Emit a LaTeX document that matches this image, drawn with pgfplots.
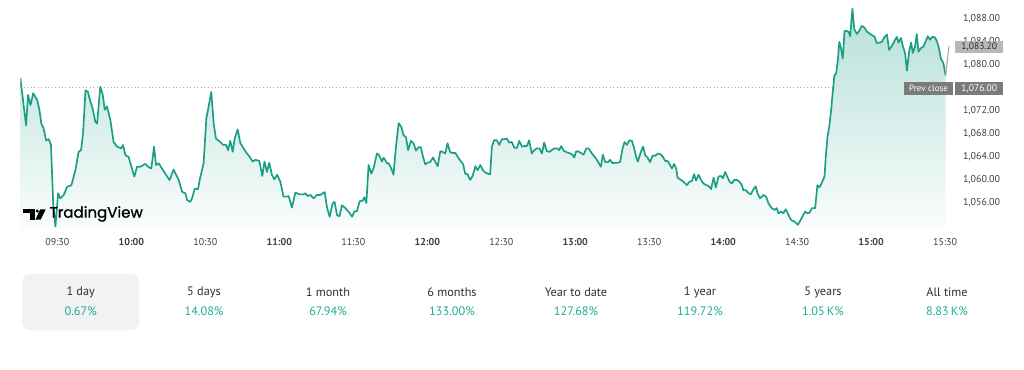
\documentclass[border=0pt]{standalone}
\usepackage{pgfplots}
\pgfplotsset{compat=1.18}
\usepackage{pgfplotstable}
\usepackage{fontspec}
\setmainfont{PT Sans}
\newfontfamily\logofont{Poppins}[FakeBold=1.2]
\definecolor{tvline}{HTML}{1A9E85}
\definecolor{tvpct}{HTML}{22AB94}
\definecolor{tvtext}{HTML}{2A2E39}
\definecolor{tvtick}{HTML}{3A3E49}
\definecolor{pcbox}{HTML}{7B7B7B}
\definecolor{lastbox}{HTML}{B8B8B8}
\definecolor{tabbg}{HTML}{F2F2F2}

\pgfplotstableread{
m v
15.0 1077.6
17.3 1069.4
18.1 1074.7
19.1 1072.9
20.2 1075.0
21.8 1073.8
22.7 1072.1
23.5 1069.7
24.4 1068.9
25.4 1066.8
26.5 1067.0
27.4 1066.0
28.3 1055.8
29.2 1051.8
30.3 1057.6
31.2 1056.7
32.6 1057.3
33.9 1058.7
35.7 1059.0
37.3 1061.6
38.6 1064.8
39.6 1065.1
40.4 1068.0
41.4 1075.5
42.4 1075.2
43.4 1073.5
44.3 1072.3
45.4 1070.0
46.1 1069.7
47.4 1076.1
48.4 1074.7
49.2 1072.1
50.1 1072.7
51.5 1070.3
52.8 1066.5
54.2 1065.7
55.9 1065.4
56.6 1066.0
57.6 1064.2
58.9 1063.9
60.0 1062.2
61.2 1060.5
62.3 1062.2
63.6 1062.2
65.7 1062.7
66.8 1062.2
68.1 1061.9
69.2 1065.7
70.0 1062.5
71.1 1062.8
72.4 1061.9
74.5 1060.5
75.5 1059.9
77.1 1061.7
79.2 1059.9
80.6 1057.8
81.9 1057.6
82.6 1056.4
83.9 1056.1
84.6 1056.7
85.7 1058.4
87.0 1058.3
88.0 1060.5
89.3 1062.8
90.4 1070.6
91.3 1072.6
92.4 1075.2
93.4 1069.7
94.3 1067.1
96.1 1066.5
97.2 1066.0
98.4 1066.0
99.2 1065.1
100.1 1066.7
101.1 1064.8
101.9 1067.1
103.1 1068.7
104.2 1066.3
105.5 1065.4
106.9 1064.5
108.0 1063.9
109.2 1063.1
110.3 1063.4
111.9 1063.2
113.1 1060.6
114.0 1063.1
115.0 1061.3
115.9 1062.9
117.0 1060.8
118.0 1060.0
119.1 1060.8
120.4 1059.6
121.7 1057.0
122.8 1057.0
123.8 1057.1
125.1 1055.1
126.5 1057.7
128.2 1057.4
129.8 1057.4
130.5 1057.6
131.5 1057.1
132.6 1057.3
133.9 1056.7
135.3 1057.3
136.6 1057.3
138.4 1057.8
139.3 1055.2
140.4 1053.5
141.6 1055.8
142.4 1056.1
143.4 1053.8
144.4 1053.6
145.4 1055.5
146.8 1055.0
148.4 1054.2
149.5 1053.5
150.4 1054.4
151.5 1054.5
152.6 1056.2
153.8 1056.3
154.5 1056.9
155.3 1055.9
156.2 1062.5
157.3 1061.0
158.2 1061.9
159.6 1064.5
160.5 1064.2
161.6 1063.1
162.3 1063.8
163.7 1062.8
164.3 1062.8
165.4 1061.9
166.3 1060.8
167.3 1065.7
168.4 1069.8
169.5 1069.1
170.4 1067.7
171.4 1067.3
172.2 1065.1
173.4 1066.7
174.4 1066.3
175.4 1065.0
176.5 1065.6
177.4 1065.6
178.3 1063.9
179.2 1062.6
180.1 1062.9
181.2 1063.0
182.3 1063.8
183.2 1063.1
184.2 1062.3
185.3 1064.9
186.2 1064.8
187.3 1064.5
188.2 1066.3
189.3 1064.7
190.4 1064.6
191.4 1064.6
192.5 1063.8
193.7 1063.1
194.5 1062.7
195.4 1061.0
196.3 1060.9
197.4 1059.9
198.4 1060.6
199.5 1062.3
200.4 1061.6
201.5 1062.5
202.6 1061.6
203.5 1061.2
204.6 1061.0
205.5 1060.9
206.2 1065.7
207.1 1066.8
208.2 1066.8
209.2 1066.0
210.3 1067.0
211.3 1067.0
212.3 1067.1
213.2 1066.4
214.3 1066.5
215.3 1065.5
216.4 1065.5
217.3 1066.7
218.4 1065.7
219.4 1065.8
220.4 1065.8
221.3 1066.8
222.4 1064.5
223.4 1065.1
224.5 1065.4
225.5 1065.4
226.5 1064.5
227.4 1066.4
228.5 1064.9
229.6 1064.8
230.5 1065.1
231.6 1065.4
232.6 1065.4
233.5 1065.1
234.3 1065.8
235.3 1065.0
236.6 1064.7
238.0 1064.5
239.1 1064.2
239.6 1063.8
240.4 1064.9
241.6 1064.8
243.4 1064.3
244.5 1065.4
245.4 1065.4
246.8 1064.5
248.8 1063.4
250.4 1062.2
251.2 1064.3
252.2 1063.0
253.3 1063.0
254.2 1063.4
255.1 1062.8
256.2 1062.9
257.1 1062.9
258.2 1063.0
259.2 1065.4
260.0 1066.5
261.0 1066.0
261.9 1066.8
263.0 1066.7
263.9 1065.4
264.7 1063.9
265.4 1063.1
266.4 1064.5
267.5 1065.7
268.4 1064.2
269.3 1063.8
270.4 1063.0
271.3 1064.1
272.4 1064.1
273.5 1064.5
274.5 1064.4
275.6 1063.9
276.5 1063.2
277.4 1063.2
278.5 1062.5
279.2 1061.9
280.1 1062.7
281.0 1061.8
281.5 1060.3
282.6 1060.0
283.9 1059.6
285.3 1059.0
286.3 1059.6
287.3 1059.7
288.2 1060.9
289.0 1059.8
290.0 1060.8
291.0 1059.9
292.0 1059.3
293.1 1059.0
294.0 1058.9
295.1 1058.3
296.1 1060.3
297.0 1058.6
298.1 1060.5
299.1 1060.6
299.9 1060.2
300.8 1061.3
301.5 1060.6
302.6 1059.6
303.5 1059.3
304.5 1059.9
305.6 1059.9
306.6 1059.6
307.6 1059.0
308.2 1058.1
309.3 1058.1
310.3 1057.6
311.2 1057.4
312.3 1058.3
313.2 1058.8
313.9 1057.6
315.0 1056.7
316.3 1057.3
317.4 1057.0
318.4 1055.8
319.7 1055.0
320.8 1054.7
321.7 1055.0
322.4 1054.1
323.5 1054.4
324.4 1054.1
325.4 1054.8
326.5 1053.8
327.6 1052.9
328.8 1052.7
329.6 1052.4
330.3 1052.1
331.2 1052.8
332.1 1053.5
333.2 1054.4
334.2 1054.1
335.0 1054.2
336.0 1055.0
337.3 1055.0
338.2 1059.0
339.0 1058.6
340.0 1059.4
341.1 1060.5
341.6 1063.9
342.3 1067.4
343.0 1069.1
343.8 1072.1
344.5 1075.5
345.1 1078.1
345.8 1078.4
346.5 1080.7
347.1 1083.9
347.8 1082.8
348.5 1081.0
349.2 1085.8
350.1 1085.8
350.8 1085.7
351.5 1084.9
352.4 1089.7
353.2 1086.1
354.2 1085.3
355.1 1085.8
356.2 1086.7
357.3 1086.4
358.3 1085.7
359.3 1085.4
360.3 1085.1
361.4 1084.8
362.3 1083.7
363.2 1083.8
364.3 1083.9
365.3 1084.7
366.4 1085.2
367.3 1082.5
368.4 1083.2
369.5 1084.1
370.4 1084.8
371.1 1083.8
372.1 1084.6
372.9 1083.1
373.8 1081.9
374.5 1078.9
375.4 1082.2
376.2 1083.8
376.9 1082.0
377.8 1083.1
378.5 1085.3
379.2 1082.2
380.1 1082.8
381.2 1083.1
382.2 1084.1
383.0 1084.9
383.9 1084.3
384.8 1084.8
385.9 1084.7
386.8 1083.9
387.5 1082.8
388.3 1081.0
389.3 1080.2
390.2 1078.1
}\pricedata

\begin{document}
\begin{tikzpicture}
\begin{axis}[
  at={(15.3pt,104.25pt)}, anchor=south west,
  scale only axis, width=698.7pt, height=172.5pt,
  xmin=15, xmax=392.8, ymin=1051.2, ymax=1091.2,
  axis line style={draw=none},
  major tick length=0pt,
  xtick={30,60,...,390},
  xticklabels={09:30,\textbf{10:00},10:30,\textbf{11:00},11:30,\textbf{12:00},12:30,\textbf{13:00},13:30,\textbf{14:00},14:30,\textbf{15:00},15:30},
  xticklabel style={font=\fontsize{7.5}{9}\selectfont, text=tvtick, yshift=-2.5pt},
  ytick={1056,1060,1064,1068,1072,1080,1084,1088},
  yticklabel pos=right,
  yticklabel style={font=\fontsize{7.5}{9}\selectfont, text=tvtick, anchor=west, xshift=4.7pt},
  /pgf/number format/.cd, fixed, fixed zerofill, precision=2, 1000 sep={,}, assume math mode=true,
]
\draw[gray!70, dotted, line width=0.6pt] (axis cs:15,1076) -- (axis cs:373,1076);
\addplot[draw=none, top color=tvline!32!white, bottom color=tvline!2!white]
  table[x=m, y=v] {\pricedata} -- (axis cs:390.2,1051.2) -- (axis cs:15,1051.2) -- cycle;
\addplot[tvline, line width=1.25pt, line join=round] table[x=m, y=v] {\pricedata};
\addplot[gray!70, line width=0.8pt] coordinates {(390.2,1078.1) (391.6,1083.2)};
\end{axis}

% price markers
\fill[pcbox] (678pt,205.5pt) rectangle (714.75pt,215.25pt);
\node[text=white, font=\fontsize{6.8}{8}\selectfont] at (696.4pt,210.4pt) {Prev close};
\fill[pcbox] (716.6pt,205.5pt) rectangle (752.25pt,215.25pt);
\node[text=white, font=\fontsize{7.2}{8}\selectfont] at (734.4pt,210.4pt) {1,076.00};
\fill[lastbox] (716.6pt,237.2pt) rectangle (752.25pt,246.2pt);
\node[text=tvtext, font=\fontsize{7.2}{8}\selectfont] at (734.4pt,241.7pt) {1,083.20};

% logo
\fill[black] (17.5pt,116.8pt) rectangle (26.2pt,119.8pt);
\fill[black] (22.5pt,112.1pt) rectangle (26.2pt,119.8pt);
\fill[black] (28.0pt,118.5pt) circle (1.25pt);
\fill[black] (30.2pt,119.8pt) -- (34.3pt,119.8pt) -- (30.5pt,112.1pt) -- (26.6pt,112.1pt) -- cycle;
\node[anchor=west, inner sep=0pt, font=\logofont\fontsize{11.3}{13}\selectfont] at (37pt,116.3pt) {TradingView};

% period tabs
\fill[tabbg, rounded corners=6pt] (16.5pt,29.25pt) rectangle (104.25pt,71.25pt);
\foreach \cx/\lab/\pct in {80.7/1 day/0.67\%, 204/5 days/14.08\%, 328/1 month/67.94\%, 452/6 months/133.00\%, 576/Year to date/127.68\%, 700/1 year/119.72\%, 823/5 years/1.05\,K\%, 947/All time/8.83\,K\%}{
  \node[text=tvtext, font=\fontsize{9.2}{11}\selectfont] at ({\cx*0.75pt},57.5pt) {\lab};
  \node[text=tvpct, font=\fontsize{9.2}{11}\selectfont] at ({\cx*0.75pt},43.5pt) {\pct};
}
\pgfresetboundingbox
\path[use as bounding box] (0,0) rectangle (768pt,276.75pt);
\end{tikzpicture}
\end{document}
